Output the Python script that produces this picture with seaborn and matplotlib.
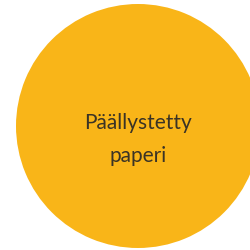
import matplotlib
matplotlib.use("Agg")
import matplotlib.pyplot as plt
import seaborn as sns

# Single-category chart: one coloured disc with its label
categories = ["Päällystetty\npaperi"]
values = [1]
colors = ["#F9B518"]

sns.set_theme(style="white")
plt.rcParams["font.family"] = ["Lato", "DejaVu Sans"]

fig = plt.figure(figsize=(2.5, 2.5), dpi=100)
ax = fig.add_axes([0, 0, 1, 1])

ax.pie(values, colors=colors, radius=1, startangle=90,
       wedgeprops=dict(linewidth=0))
ax.set_aspect("equal")

# disc centre sits at (138, 126) px, radius 122 px, clipped on the right
r_px = 122
ax.set_xlim(-138 / r_px, (250 - 138) / r_px)
ax.set_ylim(-(250 - 126) / r_px, 126 / r_px)
ax.axis("off")

ax.text(0, -0.11, categories[0], ha="center", va="center",
        fontsize=15, color="#3a3326", linespacing=1.85,
        fontweight="normal")

plt.savefig("out.png", dpi=100)
